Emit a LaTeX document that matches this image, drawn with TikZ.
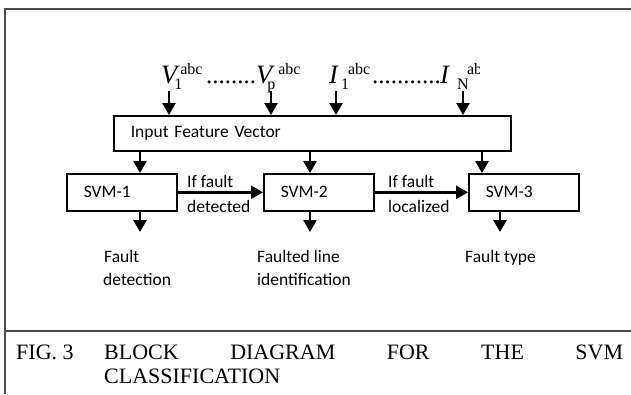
\documentclass[tikz,border=0pt]{standalone}
\usepackage{fontspec}
\setmainfont{Liberation Serif}
\newfontfamily\calibfont{Carlito}
\usetikzlibrary{arrows.meta}
\newcommand\bigit[1]{{\fontsize{26.5}{26.5}\selectfont\itshape #1}}
\newcommand\smallrm[1]{{\fontsize{16}{16}\selectfont #1}}
\newcommand\subsc[1]{\rlap{\raisebox{-6pt}{\smallrm{#1}}}}
\newcommand\supsc[1]{\raisebox{9pt}{\smallrm{#1}}}
\begin{document}
\begin{tikzpicture}[x=1pt,y=-1pt,
  box/.style={draw=black, line width=1.6pt, inner xsep=17pt, inner ysep=0pt, align=left,
    font=\calibfont\fontsize{17.5}{21}\selectfont, anchor=north west},
  arr/.style={line width=2.4pt, -{Triangle[width=13pt,length=12pt]}},
  lbl/.style={font=\calibfont\fontsize{17.5}{21}\selectfont, inner sep=0pt, anchor=base west},
  framel/.style={draw=black!70, line width=2pt},
  sym/.style={inner sep=0pt, anchor=base west},
  dotsty/.style={font=\fontsize{25}{25}\selectfont, inner sep=0pt, anchor=base west},
  capt/.style={font=\fontsize{22}{22}\selectfont, inner sep=0pt, anchor=base west}]
\useasboundingbox (0,0) rectangle (631,394);

% frame
\draw[framel] (5,394) -- (5,9) -- (631,9);
\draw[framel] (5,331) -- (631,331);

% input labels
\node[sym] (v1) at (161,83) {\bigit{V}\kern-3pt\subsc{1}\kern6pt\supsc{abc}};
\node[dotsty] (d1) at (206,83) {........};
\node[sym] (vp) at (256,83) {\bigit{V}\kern-5pt\subsc{p}\kern11pt\supsc{abc}};
\node[sym] (i1) at (329,83) {\bigit{I}\kern3pt\subsc{1}\kern7pt\supsc{abc}};
\node[dotsty] (d2) at (372,83) {...........};
\begin{scope}
\clip (420,40) rectangle (479,100);
\node[sym] (iN) at (440,83) {\bigit{I}\kern8pt\subsc{N}\kern10pt\supsc{abc}};
\end{scope}

% boxes
\node[box, text width=363pt, minimum height=35pt] (in) at (113,115) {Input Feature Vector};
\node[box, text width=76pt, minimum height=37pt] (s1) at (66,173) {SVM-1};
\node[box, text width=76pt, minimum height=37pt] (s2) at (263,173) {SVM-2};
\node[box, text width=76pt, minimum height=37pt] (s3) at (468,173) {SVM-3};

% input arrows
\coordinate (a1) at (169,91);
\coordinate (a2) at (271,91);
\coordinate (a3) at (336,91);
\coordinate (a4) at (463,91);
\foreach \a in {a1,a2,a3,a4} \draw[arr] (\a) -- (\a |- in.north);

% feature vector to SVMs
\coordinate (c1) at (140,0);
\coordinate (c2) at (310,0);
\coordinate (c3) at (482,0);
\draw[arr] (c1 |- in.south) -- (c1 |- s1.north);
\draw[arr] (c2 |- in.south) -- (c2 |- s2.north);
\draw[arr] (c3 |- in.south) -- (c3 |- s3.north);

% chain
\draw[arr] (s1.east) -- (s2.west);
\draw[arr] (s2.east) -- (s3.west);
\node[lbl] (t1a) at (187,187) {If fault};
\node[lbl] (t1b) at (187,212) {detected};
\node[lbl] (t2a) at (388,187) {If fault};
\node[lbl] (t2b) at (388,212) {localized};

% outputs
\coordinate (o1) at (140,232);
\coordinate (o2) at (310,232);
\coordinate (o3) at (500,232);
\draw[arr] (o1 |- s1.south) -- (o1);
\draw[arr] (o2 |- s2.south) -- (o2);
\draw[arr] (o3 |- s3.south) -- (o3);
\node[lbl] (l1a) at (104,262) {Fault};
\node[lbl] (l1b) at (103,285) {detection};
\node[lbl] (l2a) at (257,262) {Faulted line};
\node[lbl] (l2b) at (257,285) {identification};
\node[lbl] (l3a) at (465,262) {Fault type};

% caption
\node[capt] (fig) at (16,359) {FIG. 3};
\node[capt] (cap1) at (104,359) {\makebox[519pt][s]{BLOCK DIAGRAM FOR THE SVM}};
\node[capt] (cap2) at (104,383) {CLASSIFICATION};
\end{tikzpicture}
\end{document}
